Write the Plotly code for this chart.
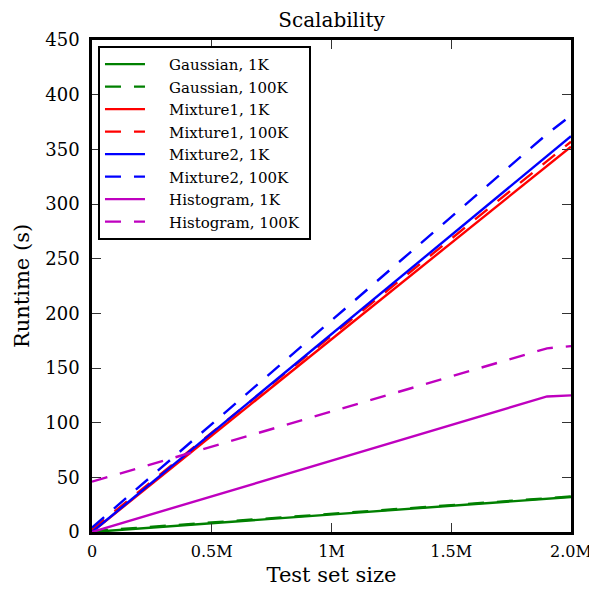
import plotly.graph_objects as go

test_sizes = [0, 1900000, 2000000]

gaussian_1k = [0, 30.5, 32]
gaussian_100k = [0.8, 31, 32.5]
mixture1_1k = [0, 335, 352.5]
mixture1_100k = [2, 339, 357]
mixture2_1k = [0, 344, 362]
mixture2_100k = [4, 364, 381]
histogram_1k = [0, 124, 125]
histogram_100k = [46, 168, 170]

series = [
    ("Gaussian, 1K", gaussian_1k, "#008000", "solid"),
    ("Gaussian, 100K", gaussian_100k, "#008000", "16px,13px"),
    ("Mixture1, 1K", mixture1_1k, "#ff0000", "solid"),
    ("Mixture1, 100K", mixture1_100k, "#ff0000", "16px,13px"),
    ("Mixture2, 1K", mixture2_1k, "#0000ff", "solid"),
    ("Mixture2, 100K", mixture2_100k, "#0000ff", "16px,13px"),
    ("Histogram, 1K", histogram_1k, "#bf00bf", "solid"),
    ("Histogram, 100K", histogram_100k, "#bf00bf", "16px,13px"),
]

x_tickvals = [0, 500000, 1000000, 1500000, 2000000]
x_ticktext = ["0", "0.5M", "1M", "1.5M", "2.0M"]
y_tickvals = [0, 50, 100, 150, 200, 250, 300, 350, 400, 450]

fig = go.Figure()
for name, vals, color, dash in series:
    fig.add_trace(go.Scatter(x=test_sizes, y=vals, mode="lines",
                             name="\u00a0\u00a0\u00a0\u00a0" + name + "\u00a0",
                             line=dict(color=color, width=2.4, dash=dash)))

font_family = "DejaVu Serif"
axis_common = dict(showgrid=False, zeroline=False, showline=True, linecolor="black",
                   linewidth=2.5, mirror="ticks", ticks="inside", ticklen=9,
                   tickwidth=1.3, tickcolor="#333333", automargin=False)

fig.update_layout(
    width=589, height=585,
    margin=dict(l=84, r=26, t=32, b=61),
    paper_bgcolor="white", plot_bgcolor="white",
    font=dict(family=font_family, color="black"),
    title=dict(text="Scalability", x=0.5, xref="paper", xanchor="center",
               y=1 - 12 / 585, yanchor="middle", yref="container",
               font=dict(family=font_family, size=20, color="black")),
    xaxis=dict(range=[0, 2000000], tickvals=x_tickvals, ticktext=x_ticktext,
               ticklabelstandoff=3,
               tickfont=dict(family=font_family, size=16, color="black"),
               title=dict(text="Test set size", standoff=8,
                          font=dict(family=font_family, size=21, color="black")),
               **axis_common),
    yaxis=dict(range=[0, 450], tickvals=y_tickvals, ticklabelstandoff=6,
               tickfont=dict(family=font_family, size=18, color="black"),
               title=dict(text="Runtime (s)", standoff=10,
                          font=dict(family=font_family, size=21, color="black")),
               **axis_common),
    legend=dict(x=0.0125, y=0.988, xanchor="left", yanchor="top",
                bgcolor="white", bordercolor="black", borderwidth=2,
                font=dict(family=font_family, size=15, color="black"),
                itemwidth=40, tracegroupgap=0),
    showlegend=True,
)

fig.write_html("out.html")
